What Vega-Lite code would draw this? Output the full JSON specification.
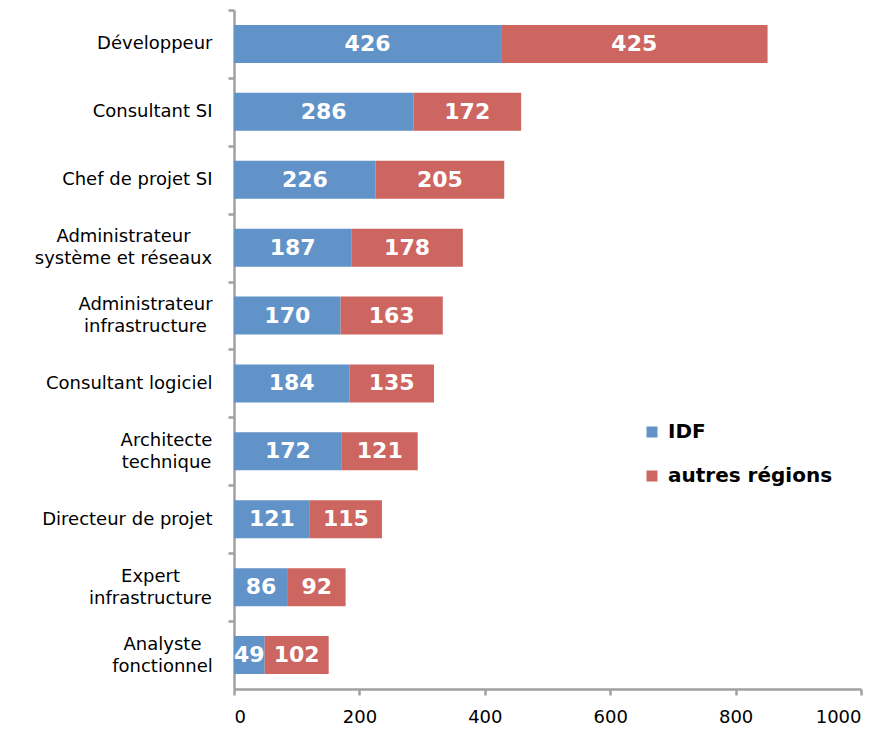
{
  "$schema": "https://vega.github.io/schema/vega-lite/v6.json",
  "width": 627,
  "height": 679,
  "autosize": "none",
  "padding": {"left": 234, "top": 10, "right": 35, "bottom": 44},
  "background": "white",
  "config": {"font": "DejaVu Sans", "view": {"stroke": null}},
  "data": {
    "values": [
      {"job": "Développeur", "region": "IDF", "ord": 1, "value": 426},
      {"job": "Développeur", "region": "autres régions", "ord": 2, "value": 425},
      {"job": "Consultant SI", "region": "IDF", "ord": 1, "value": 286},
      {"job": "Consultant SI", "region": "autres régions", "ord": 2, "value": 172},
      {"job": "Chef de projet SI", "region": "IDF", "ord": 1, "value": 226},
      {"job": "Chef de projet SI", "region": "autres régions", "ord": 2, "value": 205},
      {"job": "Administrateur\nsystème et réseaux", "region": "IDF", "ord": 1, "value": 187},
      {"job": "Administrateur\nsystème et réseaux", "region": "autres régions", "ord": 2, "value": 178},
      {"job": "Administrateur\ninfrastructure", "region": "IDF", "ord": 1, "value": 170},
      {"job": "Administrateur\ninfrastructure", "region": "autres régions", "ord": 2, "value": 163},
      {"job": "Consultant logiciel", "region": "IDF", "ord": 1, "value": 184},
      {"job": "Consultant logiciel", "region": "autres régions", "ord": 2, "value": 135},
      {"job": "Architecte\ntechnique", "region": "IDF", "ord": 1, "value": 172},
      {"job": "Architecte\ntechnique", "region": "autres régions", "ord": 2, "value": 121},
      {"job": "Directeur de projet", "region": "IDF", "ord": 1, "value": 121},
      {"job": "Directeur de projet", "region": "autres régions", "ord": 2, "value": 115},
      {"job": "Expert\ninfrastructure", "region": "IDF", "ord": 1, "value": 86},
      {"job": "Expert\ninfrastructure", "region": "autres régions", "ord": 2, "value": 92},
      {"job": "Analyste\nfonctionnel", "region": "IDF", "ord": 1, "value": 49},
      {"job": "Analyste\nfonctionnel", "region": "autres régions", "ord": 2, "value": 102}
    ]
  },
  "encoding": {
    "y": {
      "field": "job",
      "type": "nominal",
      "sort": null,
      "title": null,
      "scale": {"paddingInner": 0.44, "paddingOuter": 0.22},
      "axis": {
        "labelExpr": "isValid(datum.value) ? split(datum.value, '\\n') : ''",
        "labelFontSize": 18,
        "labelColor": "#000000",
        "labelLineHeight": 22,
        "labelLimit": 300,
        "labelAlign": {
          "condition": {"test": "isValid(datum.value) && indexof(datum.value, '\\n') >= 0", "value": "center"},
          "value": "right"
        },
        "labelOffset": {
          "condition": {"test": "isValid(datum.value) && indexof(datum.value, '\\n') >= 0", "value": 22.95},
          "value": 33.95
        },
        "labelPadding": {
          "condition": [
            {"test": "isValid(datum.value) && indexof(datum.value, 'système') >= 0", "value": 105},
            {"test": "isValid(datum.value) && datum.value == 'Administrateur\\ninfrastructure'", "value": 83},
            {"test": "isValid(datum.value) && indexof(datum.value, 'Architecte') == 0", "value": 62},
            {"test": "isValid(datum.value) && indexof(datum.value, 'Expert') == 0", "value": 78},
            {"test": "isValid(datum.value) && indexof(datum.value, 'Analyste') == 0", "value": 66}
          ],
          "value": 16
        },
        "tickOffset": -33.95,
        "tickSize": 6,
        "tickWidth": 2.5,
        "tickColor": "#a0a0a0",
        "domainColor": "#a0a0a0",
        "domainWidth": 2.5
      }
    }
  },
  "layer": [
    {
      "mark": {"type": "bar"},
      "encoding": {
        "x": {
          "field": "value",
          "type": "quantitative",
          "stack": "zero",
          "title": null,
          "scale": {"domain": [0, 1000], "nice": false},
          "axis": {
            "values": [0, 200, 400, 600, 800, 1000],
            "format": "d",
            "grid": false,
            "labelFontSize": 18,
            "labelColor": "#000000",
            "labelPadding": 13,
            "tickSize": 6,
            "tickWidth": 2.5,
            "tickColor": "#a0a0a0",
            "domainColor": "#a0a0a0",
            "domainWidth": 2.5
          }
        },
        "color": {
          "field": "region",
          "type": "nominal",
          "scale": {"domain": ["IDF", "autres régions"], "range": ["#6193C8", "#CD6661"]},
          "legend": {
            "title": null,
            "orient": "none",
            "legendX": 408,
            "legendY": 412,
            "labelFontSize": 20,
            "labelFontWeight": "bold",
            "labelColor": "#000000",
            "labelLimit": 400,
            "symbolType": "square",
            "symbolSize": 121,
            "symbolStrokeWidth": 0,
            "labelOffset": 6,
            "rowPadding": 24
          }
        },
        "order": {"field": "ord", "type": "quantitative"}
      }
    },
    {
      "mark": {"type": "text", "fontWeight": "bold", "fontSize": 22, "color": "white", "align": "center", "baseline": "middle"},
      "encoding": {
        "x": {"field": "value", "type": "quantitative", "stack": "zero", "bandPosition": 0.5},
        "detail": {"field": "region", "type": "nominal"},
        "order": {"field": "ord", "type": "quantitative"},
        "text": {"field": "value", "type": "quantitative"}
      }
    }
  ]
}
